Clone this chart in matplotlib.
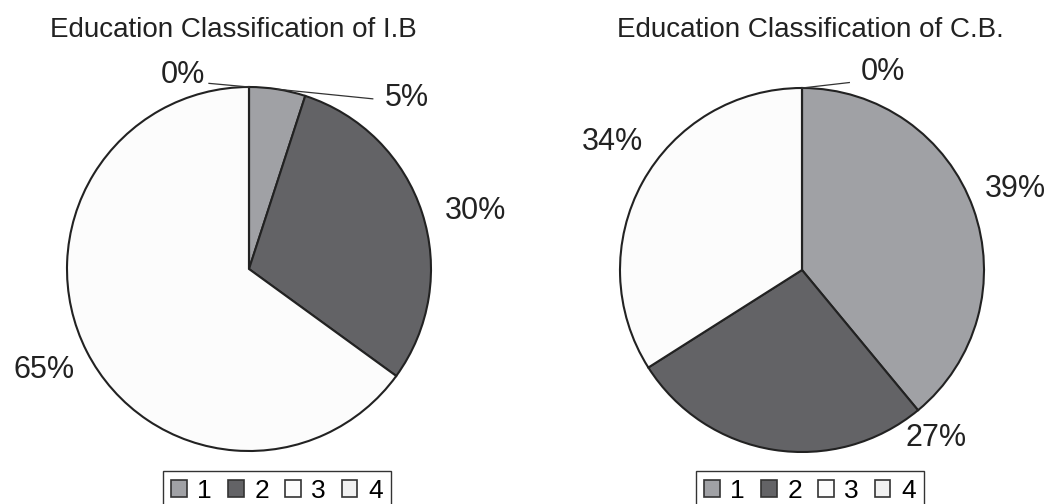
import numpy as np
import matplotlib.pyplot as plt
from matplotlib.patches import Patch

plt.rcParams['font.family'] = ['Liberation Sans', 'DejaVu Sans']

categories = ["1", "2", "3", "4"]
ib_values = [5, 30, 65, 0]
cb_values = [39, 27, 34, 0]
titles = ["Education Classification of I.B", "Education Classification of C.B."]
colors = ["#a0a1a5", "#636366", "#fcfcfc", "#f1f1f1"]

W, H = 1058, 504
R = 182  # pie radius in px
fig = plt.figure(figsize=(W / 100, H / 100), dpi=100)

# layout: pie centre (px), label positions (in pie radii), leader line ends
charts = [
    dict(vals=ib_values, title=titles[0], cx=249, cy=269, title_x=233,
         label_pos=[(0.868, 0.940), (1.242, 0.319), (-1.126, -0.555), (-0.363, 1.066)],
         leaders={0: (0.68, 0.935), 3: (-0.22, 1.02)},
         legend_x=163),
    dict(vals=cb_values, title=titles[1], cx=802, cy=270, title_x=810,
         label_pos=[(1.173, 0.445), (0.736, -0.923), (-1.044, 0.703), (0.445, 1.088)],
         leaders={3: (0.26, 1.03)},
         legend_x=696),
]

L = 1.45
for c in charts:
    half = L * R
    ax = fig.add_axes([(c["cx"] - half) / W, (H - c["cy"] - half) / H, 2 * half / W, 2 * half / H])
    wedges, _ = ax.pie(c["vals"], colors=colors, startangle=90, counterclock=False,
                       radius=1, wedgeprops=dict(edgecolor="#222222", linewidth=1.5))
    ax.set_xlim(-L, L)
    ax.set_ylim(-L, L)
    ax.set_aspect("equal")
    ax.axis("off")

    # percentage labels
    for i, (v, w) in enumerate(zip(c["vals"], wedges)):
        x, y = c["label_pos"][i]
        ax.text(x, y, f"{v}%", ha="center", va="center", fontsize=22, color="#222222")
        if i in c["leaders"]:
            ang = np.deg2rad((w.theta1 + w.theta2) / 2)
            ex, ey = c["leaders"][i]
            ax.plot([np.cos(ang), ex], [np.sin(ang), ey], color="#333333", lw=0.9,
                    clip_on=False)

    fig.text(c["title_x"] / W, 1 - 30 / H, c["title"], ha="center", va="center",
             fontsize=20, color="#222222")

    handles = [Patch(facecolor=col, edgecolor="#333333", linewidth=1.2) for col in colors]
    fig.legend(handles, categories, loc="upper left",
               bbox_to_anchor=(c["legend_x"] / W, 1 - 471 / H),
               ncol=4, fontsize=19, frameon=True, fancybox=False,
               edgecolor="#333333", framealpha=1, handlelength=0.6, handleheight=0.6,
               handletextpad=0.4, columnspacing=0.6, borderpad=0.3,
               borderaxespad=0)

fig.savefig("out.png", dpi=100)
